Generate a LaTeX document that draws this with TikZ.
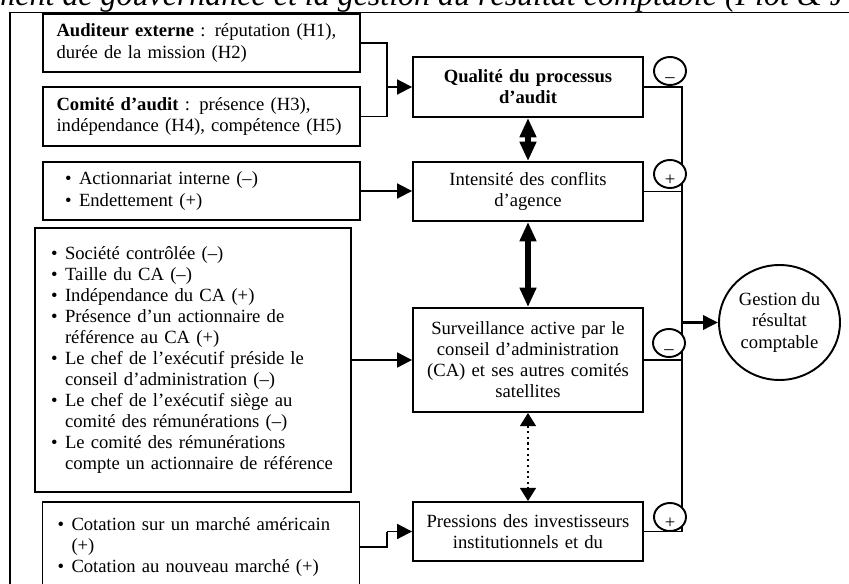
\documentclass[tikz,border=0pt]{standalone}
\usepackage{fontspec}
\setmainfont{Liberation Serif}
\usetikzlibrary{arrows.meta,shapes.geometric}
\newcommand{\itm}{\makebox[0.28cm][l]{\textbullet}}
\newcommand{\cnt}{\hspace*{0.28cm}}

\begin{document}
\begin{tikzpicture}[x=0.02cm,y=-0.02cm,
    every node/.style={font=\fontsize{10.6pt}{12pt}\selectfont},
    boite/.style={draw,line width=1.1pt,align=left},
    centre/.style={draw,line width=1.1pt,align=center,minimum width=4.6cm,text width=4.3cm},
    signe/.style={draw,ellipse,fill=white,line width=1.1pt,inner sep=0pt,minimum width=0.64cm,minimum height=0.56cm},
    lien/.style={line width=1.1pt},
    fleche/.style={line width=1.1pt,-{Triangle[length=8.5pt,width=8.5pt]}},
    lienfort/.style={line width=3.4pt,{Triangle[length=11pt,width=9pt]}-{Triangle[length=11pt,width=9pt]}},
    lienfaible/.style={line width=1.2pt,dotted,{Triangle[length=7.5pt,width=9pt]}-{Triangle[length=7.5pt,width=9pt]}}
  ]
  \useasboundingbox (0,0) rectangle (849,584);
  \node[anchor=base west,inner sep=0pt,font=\fontsize{18.2pt}{20pt}\selectfont\itshape] (titre) at (-8,6)
    {ment de gouvernance et la gestion du résultat comptable (Piot \& J};
  \draw[lien] (10,600) -- (10,12.5) -- (870,12.5);

  \node[boite,inner xsep=0.27cm,text width=5.8cm,minimum height=1.16cm] (audext) at (201.5,43) {
    \textbf{Auditeur externe} : réputation (H1),\\ durée de la mission (H2)
  };
  \node[boite,inner xsep=0.27cm,text width=5.8cm,minimum height=1.18cm] (comaud) at (201.5,116.5) {
    \textbf{Comité d’audit} : présence (H3),\\ indépendance (H4), compétence (H5)
  };
  \node[boite,inner xsep=0.44cm,text width=5.46cm,minimum height=1.16cm] (action) at (201.5,191) {
    \itm Actionnariat interne (–)\\ \itm Endettement (+)
  };
  \node[boite,inner xsep=0.32cm,text width=5.68cm,minimum height=5.28cm] (conseil) at (193,360) {
    \itm Société contrôlée (–)\\
    \itm Taille du CA (–)\\
    \itm Indépendance du CA (+)\\
    \itm Présence d’un actionnaire de\\ \cnt référence au CA (+)\\
    \itm Le chef de l’exécutif préside le\\ \cnt conseil d’administration (–)\\
    \itm Le chef de l’exécutif siège au\\ \cnt comité des rémunérations (–)\\
    \itm Le comité des rémunérations\\ \cnt compte un actionnaire de référence
  };
  \node[boite,inner xsep=0.3cm,text width=5.74cm,minimum height=1.8cm] (cotation) at (201,547) {
    \itm Cotation sur un marché américain\\ \cnt (+)\\ \itm Cotation au nouveau marché (+)
  };

  \node[centre,minimum height=1.2cm,font=\fontsize{10.6pt}{12pt}\selectfont\bfseries] (qualite) at (528,87) {
    Qualité du processus\\ d’audit
  };
  \node[centre,minimum height=1.18cm] (conflits) at (528,191.5) {
    Intensité des conflits\\ d’agence
  };
  \node[centre,minimum height=2.08cm] (surv) at (528,360) {
    Surveillance active par le\\ conseil d’administration\\ (CA) et ses autres comités\\ satellites
  };
  \node[centre,minimum height=1.18cm] (press) at (528,531.5) {
    Pressions des investisseurs\\ institutionnels et du
  };
  \node[draw,ellipse,line width=1.1pt,inner sep=0pt,minimum width=2.42cm,minimum height=2.3cm,align=center] (gestion) at (779.5,322.5) {
    Gestion du\\ résultat\\ comptable
  };

  \coordinate (jq) at (387,87);
  \coordinate (je) at (387,531.5);
  \coordinate (bh) at (682,87);
  \coordinate (bb) at (682,531.5);
  \draw[lien] (audext.east) -| (jq);
  \draw[lien] (comaud.east) -| (jq);
  \draw[fleche] (jq) -- (qualite.west);
  \draw[fleche] (action.east) -- (action.east -| conflits.west);
  \draw[fleche] (conseil.east) -- (conseil.east -| surv.west);
  \draw[lien] (cotation.east) -| (je);
  \draw[fleche] (je) -- (press.west);

  \draw[lienfort] (qualite.south) -- (conflits.north);
  \draw[lienfort] (conflits.south) -- (surv.north);
  \draw[lienfaible] (surv.south) -- (press.north);

  \draw[lien] (qualite.east) -- (bh) -- (bb) -- (press.east);
  \draw[lien] (conflits.east) -- (conflits.east -| bh);
  \draw[lien] (surv.east) -- (surv.east -| bh);
  \draw[line width=1.7pt,-{Triangle[length=8.5pt,width=8pt]}] (gestion.west -| bh) -- (gestion.west);

  \node[signe] (sq) at (670,71) {\smash{\raisebox{-0.23cm}{–}}};
  \node[signe] (sc) at (670,174) {\smash{\raisebox{-0.23cm}{+}}};
  \node[signe] (ss) at (669,343) {\smash{\raisebox{-0.23cm}{–}}};
  \node[signe] (sp) at (670,517) {\smash{\raisebox{-0.23cm}{+}}};
\end{tikzpicture}
\end{document}
